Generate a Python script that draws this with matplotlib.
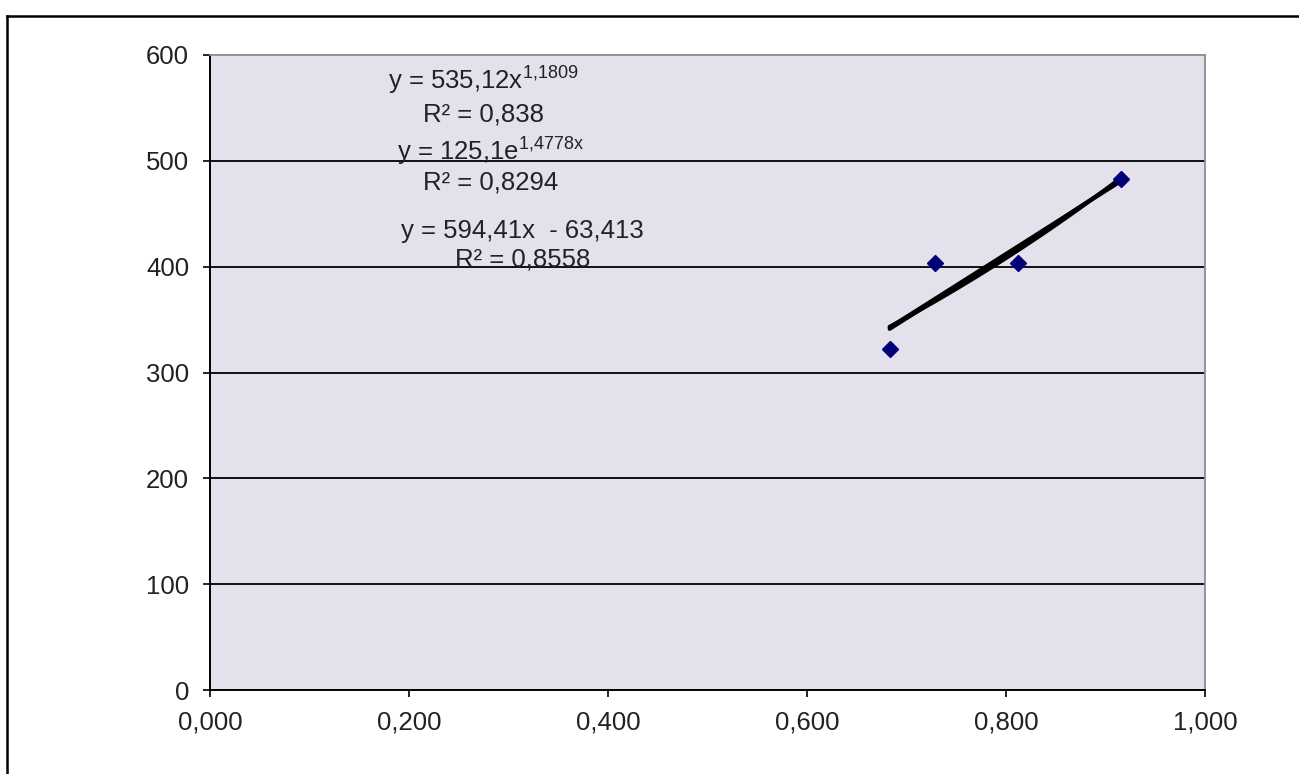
import numpy as np
import matplotlib
matplotlib.use("Agg")
import matplotlib.pyplot as plt
from matplotlib.lines import Line2D

plt.rcParams["font.family"] = ["Liberation Sans", "DejaVu Sans"]
plt.rcParams["mathtext.fontset"] = "custom"
plt.rcParams["mathtext.rm"] = "Liberation Sans"
plt.rcParams["mathtext.it"] = "Liberation Sans"

# Measured samples
x_vals = [0.683, 0.729, 0.812, 0.916]
y_vals = [322, 403, 403, 483]

# Trendline coefficients
lin_slope, lin_icpt = 594.41, -63.413
pow_a, pow_b = 535.12, 1.1809
exp_a, exp_b = 125.1, 1.4778

x_ticks = [0.0, 0.2, 0.4, 0.6, 0.8, 1.0]
x_tick_labels = ["0,000", "0,200", "0,400", "0,600", "0,800", "1,000"]
y_ticks = [0, 100, 200, 300, 400, 500, 600]
y_tick_labels = ["0", "100", "200", "300", "400", "500", "600"]

# Equation annotations: (x, baseline y, text)
labels = [
    (0.275, 566.9, r"y = 535,12x$^{\mathregular{1{,}1809}}$"),
    (0.275, 536.7, "R² = 0,838"),
    (0.282, 499.9, r"y = 125,1e$^{\mathregular{1{,}4778x}}$"),
    (0.282, 472.5, "R² = 0,8294"),
    (0.314, 427.1, "y = 594,41x  - 63,413"),
    (0.314, 399.7, "R² = 0,8558"),
]

W, H = 1299, 774
fig = plt.figure(figsize=(W / 100, H / 100), dpi=100)
fig.patch.set_facecolor("white")

ax = fig.add_axes([210 / W, 1 - 690 / H, 995 / W, 635 / H])
ax.set_facecolor("#E4E0EC")
ax.set_xlim(0, 1)
ax.set_ylim(0, 600)

for gy in y_ticks[1:-1]:
    ax.axhline(gy, color="black", lw=1.3, zorder=1)

xs = np.linspace(min(x_vals), max(x_vals), 100)
ax.plot(xs, lin_slope * xs + lin_icpt, color="black", lw=2.8, zorder=3,
        solid_capstyle="round")
ax.plot(xs, pow_a * xs ** pow_b, color="black", lw=2.8, zorder=3,
        solid_capstyle="round")
ax.plot(xs, exp_a * np.exp(exp_b * xs), color="black", lw=2.8, zorder=3,
        solid_capstyle="round")

ax.plot(x_vals, y_vals, linestyle="none", marker="D", markersize=8,
        color="#00007A", zorder=4)

for tx, ty, s in labels:
    ax.text(tx, ty, s, ha="center", va="baseline", fontsize=18.5,
            color="#222222", zorder=5)

ax.set_xticks(x_ticks)
ax.set_xticklabels(x_tick_labels)
ax.set_yticks(y_ticks)
ax.set_yticklabels(y_tick_labels)
ax.tick_params(axis="both", direction="out", length=5, width=1.2,
               colors="black", labelsize=18.5, labelcolor="#222222")
ax.tick_params(axis="y", pad=10)
ax.tick_params(axis="x", pad=10)

for side in ("top", "right"):
    ax.spines[side].set_color("#8C8C8C")
    ax.spines[side].set_linewidth(1.3)
for side in ("left", "bottom"):
    ax.spines[side].set_color("black")
    ax.spines[side].set_linewidth(1.4)

# Chart-area frame
fig.add_artist(Line2D([7 / W, 1.0], [1 - 15.5 / H, 1 - 15.5 / H],
                      color="black", lw=1.8, transform=fig.transFigure))
fig.add_artist(Line2D([7 / W, 7 / W], [1 - 15.5 / H, 0.0],
                      color="black", lw=1.8, transform=fig.transFigure))

fig.savefig("out.png", dpi=100)
